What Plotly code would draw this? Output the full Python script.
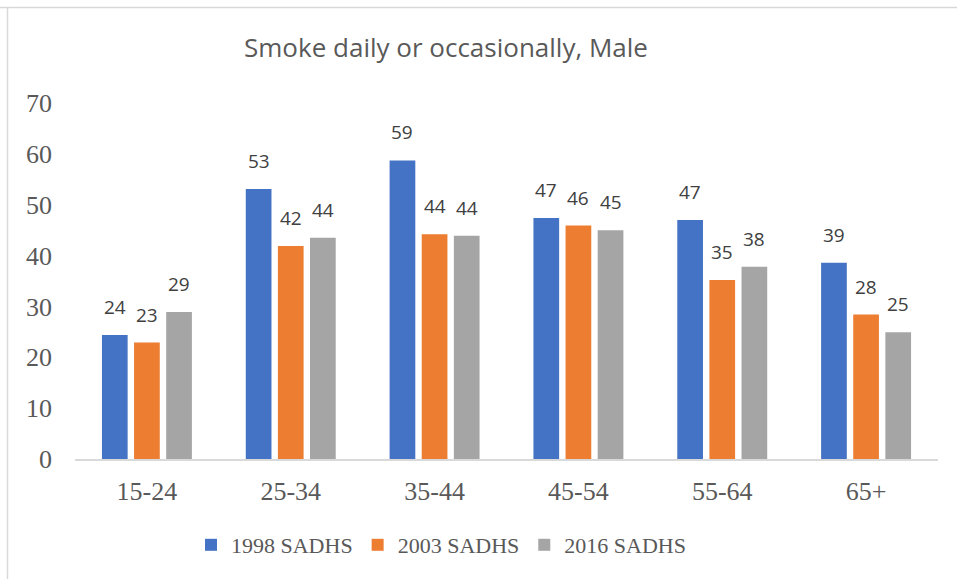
import plotly.graph_objects as go

categories = ["15-24", "25-34", "35-44", "45-54", "55-64", "65+"]
series_names = ["1998 SADHS", "2003 SADHS", "2016 SADHS"]
s1998 = [24.4, 53.1, 58.7, 47.4, 47.0, 38.6]
s2003 = [22.9, 41.9, 44.2, 45.9, 35.2, 28.4]
s2016 = [28.9, 43.5, 43.9, 45.0, 37.8, 24.9]
y_ticks = [0, 10, 20, 30, 40, 50, 60, 70]

colors = ["#4472C4", "#ED7D31", "#A5A5A5"]

W, H = 957, 579
ML, MR, MT, MB = 75, 19, 103, 120
plot_w = W - ML - MR
plot_h = H - MT - MB
BARGAP = 0.33
slot_px = plot_w / len(categories) * (1 - BARGAP) / 3

fig = go.Figure()
annotations = []
for i, (name, vals, col) in enumerate(zip(series_names, [s1998, s2003, s2016], colors)):
    fig.add_trace(go.Bar(
        x=categories, y=vals, name=name,
        marker=dict(color=col, line=dict(width=0)),
    ))
    for c, v in zip(categories, vals):
        annotations.append(dict(
            x=c, y=v, xref="x", yref="y", text=f"{v:.0f}", showarrow=False,
            xanchor="center", yanchor="bottom", xshift=(i - 1) * slot_px, yshift=13,
            font=dict(family="Open Sans, sans-serif", size=19, color="#404040"),
        ))

fig.update_layout(
    width=W, height=H,
    paper_bgcolor="white", plot_bgcolor="white",
    margin=dict(l=ML, r=MR, t=MT, b=MB, autoexpand=False),
    barmode="group", bargap=BARGAP, bargroupgap=0.2,
    title=dict(text="Smoke daily or occasionally, Male",
               font=dict(family="Open Sans, sans-serif", size=26, color="#595959"),
               x=446 / W, xanchor="center", xref="container",
               y=1 - 48 / H, yanchor="middle"),
    legend=dict(orientation="h", x=441 / W, xref="container", xanchor="center",
                y=1 - 545 / H, yref="container", yanchor="middle",
                font=dict(family="Liberation Serif, serif", size=22, color="#595959"),
                itemwidth=30, traceorder="normal"),
    annotations=annotations,
    shapes=[
        dict(type="line", xref="paper", yref="paper", x0=-ML / plot_w, x1=(W - ML) / plot_w + 0.05,
             y0=1 + (MT - 7.5) / plot_h, y1=1 + (MT - 7.5) / plot_h,
             line=dict(color="#D9D9D9", width=1.5)),
        dict(type="line", xref="paper", yref="paper", x0=-(ML - 7.5) / plot_w, x1=-(ML - 7.5) / plot_w,
             y0=1 + (MT - 7.5) / plot_h, y1=-0.5,
             line=dict(color="#D9D9D9", width=1.5)),
    ],
)

fig.update_xaxes(
    showline=True, linecolor="#D9D9D9", linewidth=1.5, automargin=False,
    showgrid=False, ticks="", ticklabelstandoff=8,
    tickfont=dict(family="Liberation Serif, serif", size=26, color="#595959"),
)
fig.update_yaxes(
    range=[0, 70], tickvals=y_ticks, showgrid=False, showline=False, automargin=False,
    zeroline=False, ticks="", ticklabelstandoff=22,
    tickfont=dict(family="Liberation Serif, serif", size=26, color="#595959"),
)

fig.write_html("out.html", config={"displayModeBar": False},
               post_script="document.body.style.margin='0';")
